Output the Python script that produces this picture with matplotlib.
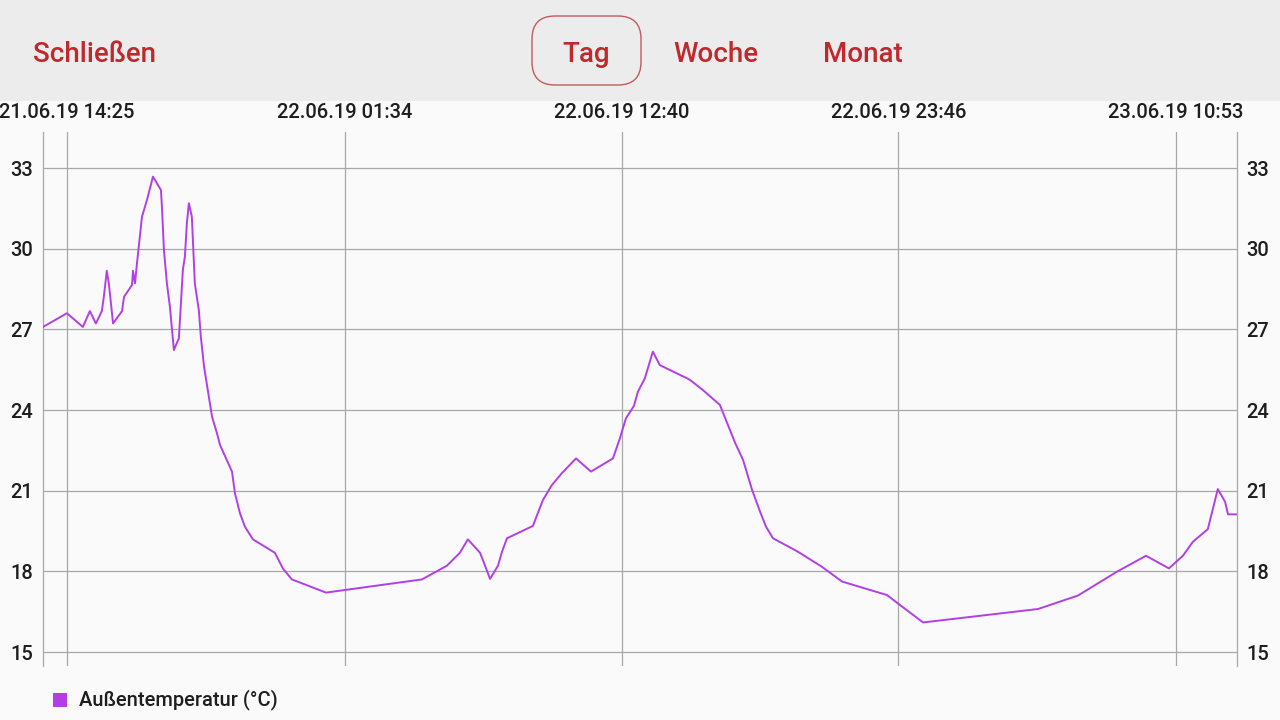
import matplotlib
matplotlib.use("Agg")
import matplotlib.pyplot as plt
from matplotlib.patches import Rectangle, FancyBboxPatch

# Stunden ab 21.06.19 14:25
hours = [-0.96, 0.00, 0.64, 0.92, 1.16, 1.40, 1.48, 1.60, 1.68, 1.85,
         2.21, 2.29, 2.61, 2.65, 2.73, 2.81, 3.01, 3.21, 3.45, 3.77,
         3.81, 3.89, 4.01, 4.13, 4.29, 4.49, 4.65, 4.73, 4.81, 4.89,
         5.01, 5.13, 5.29, 5.37, 5.50, 5.82, 6.02, 6.14, 6.62, 6.74,
         6.94, 7.14, 7.46, 8.34, 8.66, 9.02, 10.39, 14.24, 15.24, 15.76,
         16.08, 16.57, 16.77, 16.97, 17.29, 17.45, 17.65, 18.69, 19.09, 19.45,
         19.85, 20.42, 21.02, 21.90, 22.18, 22.42, 22.74, 22.90, 23.18, 23.50,
         23.78, 24.87, 24.99, 25.51, 26.19, 26.79, 27.12, 27.48, 27.80, 28.04,
         28.32, 29.32, 30.28, 31.09, 32.89, 33.41, 34.34, 38.95, 40.55, 42.12,
         43.28, 44.20, 44.76, 45.16, 45.76, 46.16, 46.45, 46.57, 46.93]
temps = [27.09, 27.60, 27.09, 27.68, 27.22, 27.68, 28.21, 29.18, 28.71, 27.22,
         27.68, 28.21, 28.65, 29.18, 28.71, 29.46, 31.19, 31.81, 32.68, 32.18,
         31.56, 29.95, 28.71, 27.84, 26.23, 26.67, 29.21, 29.70, 30.94, 31.69,
         31.19, 28.71, 27.72, 26.73, 25.61, 23.75, 23.13, 22.70, 21.71, 20.90,
         20.16, 19.66, 19.19, 18.69, 18.11, 17.70, 17.21, 17.70, 18.21, 18.69,
         19.19, 18.69, 18.21, 17.72, 18.21, 18.73, 19.23, 19.69, 20.65, 21.21,
         21.65, 22.20, 21.71, 22.20, 22.95, 23.69, 24.15, 24.68, 25.18, 26.17,
         25.67, 25.18, 25.12, 24.74, 24.19, 22.80, 22.14, 21.03, 20.22, 19.66,
         19.23, 18.73, 18.17, 17.62, 17.12, 16.75, 16.10, 16.60, 17.10, 17.99,
         18.58, 18.11, 18.58, 19.10, 19.57, 21.06, 20.59, 20.12, 20.12]

tick_hours = [0.0, 11.15, 22.25, 33.35, 44.47]
tick_labels = ["21.06.19 14:25", "22.06.19 01:34", "22.06.19 12:40",
               "22.06.19 23:46", "23.06.19 10:53"]
y_ticks = [15, 18, 21, 24, 27, 30, 33]
buttons = ["Tag", "Woche", "Monat"]
series_name = "Außentemperatur (°C)"

RED = "#c0282d"
PURPLE = "#b23fe6"
TEXT = "#1e1e1e"
GRID = "#a8a8a8"

plt.rcParams["font.family"] = ["Roboto", "DejaVu Sans"]

W, H = 1280, 720
fig = plt.figure(figsize=(W / 100, H / 100), dpi=100, facecolor="#fafafa")

# obere Leiste
fig.patches.append(Rectangle((0, 1 - 101 / H), 1, 101 / H, transform=fig.transFigure,
                             facecolor="#ececec", edgecolor="none", zorder=0))
fig.patches.append(FancyBboxPatch((532 / W, 1 - 85 / H), 109 / W, 69 / H,
                                  boxstyle="round,pad=0,rounding_size=0.018",
                                  transform=fig.transFigure, facecolor="none",
                                  edgecolor="#c5595c", linewidth=1.0, zorder=1,
                                  mutation_aspect=W / H))
fig.text(33 / W, 1 - 54 / H, "Schließen", color=RED, fontsize=20, fontweight="medium",
         ha="left", va="center")
for name, cx in zip(buttons, [586, 716, 863]):
    fig.text(cx / W, 1 - 54 / H, name, color=RED, fontsize=20, fontweight="medium",
             ha="center", va="center")

ax = fig.add_axes([43 / W, 1 - 666 / H, 1194 / W, 534 / H])
ax.set_facecolor("#fafafa")
ax.plot(hours, temps, color=PURPLE, linewidth=1.4, zorder=3)

ax.set_xlim(-0.96, 46.93)
ax.set_ylim(14.48, 34.34)
ax.set_xticks(tick_hours)
ax.set_xticklabels(tick_labels, fontweight="medium")
ax.set_yticks(y_ticks)
ax.set_yticklabels([str(v) for v in y_ticks], fontweight="medium")
ax.xaxis.tick_top()
ax.tick_params(axis="x", length=0, pad=7, labelsize=14.5, labelcolor=TEXT)
ax.tick_params(axis="y", length=0, pad=7, labelsize=14.5, labelcolor=TEXT,
               labelleft=True, labelright=True)
ax.grid(True, color=GRID, linewidth=0.9)
for side in ["top", "bottom"]:
    ax.spines[side].set_visible(False)
for side in ["left", "right"]:
    ax.spines[side].set_color(GRID)
    ax.spines[side].set_linewidth(0.9)

# Legende
fig.patches.append(Rectangle((53 / W, 1 - 707 / H), 14 / W, 14 / H, transform=fig.transFigure,
                             facecolor=PURPLE, edgecolor="none"))
fig.text(79 / W, 1 - 700 / H, series_name, color=TEXT, fontsize=14.5, fontweight="medium",
         ha="left", va="center")

fig.savefig("out.png", dpi=100, facecolor=fig.get_facecolor())
